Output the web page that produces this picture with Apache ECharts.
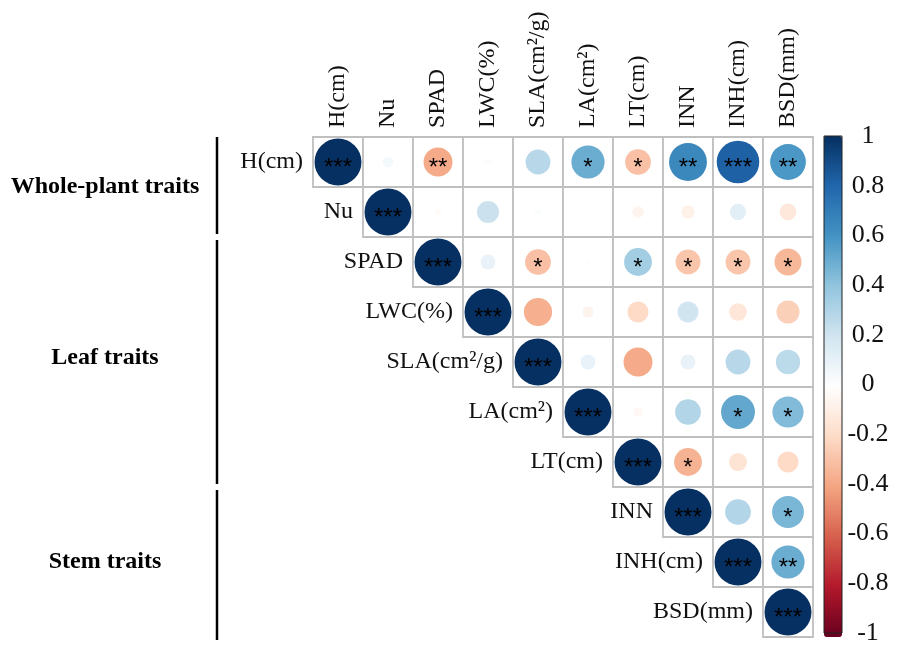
<!DOCTYPE html>
<html>
<head>
<meta charset="utf-8">
<script src="https://cdn.jsdelivr.net/npm/echarts@6/dist/echarts.min.js"></script>
<style>
  html, body { margin: 0; padding: 0; background: #ffffff; }
  #chart { width: 909px; height: 646px; }
</style>
</head>
<body>
<div id="chart"></div>
<script>
// Trait names (rows and columns of the correlation matrix)
const traits = ['H(cm)', 'Nu', 'SPAD', 'LWC(%)', 'SLA(cm²/g)', 'LA(cm²)', 'LT(cm)', 'INN', 'INH(cm)', 'BSD(mm)'];

// Upper-triangle Pearson r, one array per row (row i lists columns i..9)
const corrH    = [1, 0.05, -0.38, 0.02, 0.28, 0.50, -0.30, 0.65, 0.82, 0.58];
const corrNu   = [1, -0.02, 0.22, 0.02, 0.01, -0.06, -0.08, 0.12, -0.13];
const corrSPAD = [1, 0.10, -0.30, -0.01, 0.35, -0.28, -0.28, -0.33];
const corrLWC  = [1, -0.36, -0.06, -0.20, 0.20, -0.14, -0.24];
const corrSLA  = [1, 0.10, -0.38, 0.10, 0.28, 0.27];
const corrLA   = [1, -0.04, 0.30, 0.52, 0.44];
const corrLT   = [1, -0.35, -0.15, -0.20];
const corrINN  = [1, 0.30, 0.46];
const corrINH  = [1, 0.50];
const corrBSD  = [1];

// Significance marks for the same cells
const sigH    = ['***', '', '**', '', '', '*', '*', '**', '***', '**'];
const sigNu   = ['***', '', '', '', '', '', '', '', ''];
const sigSPAD = ['***', '', '*', '', '*', '*', '*', '*'];
const sigLWC  = ['***', '', '', '', '', '', ''];
const sigSLA  = ['***', '', '', '', '', ''];
const sigLA   = ['***', '', '', '*', '*'];
const sigLT   = ['***', '*', '', ''];
const sigINN  = ['***', '', '*'];
const sigINH  = ['***', '**'];
const sigBSD  = ['***'];

// Trait groups: [label, first row, last row]
const groupNames = ['Whole-plant traits', 'Leaf traits', 'Stem traits'];
const groupFirst = [0, 2, 7];
const groupLast  = [1, 6, 9];

// Colour bar tick values and their printed labels
const barTicks      = [1, 0.8, 0.6, 0.4, 0.2, 0, -0.2, -0.4, -0.6, -0.8, -1];
const barTickLabels = ['1', '0.8', '0.6', '0.4', '0.2', '0', '-0.2', '-0.4', '-0.6', '-0.8', '-1'];

const corrRows = [corrH, corrNu, corrSPAD, corrLWC, corrSLA, corrLA, corrLT, corrINN, corrINH, corrBSD];
const sigRows  = [sigH, sigNu, sigSPAD, sigLWC, sigSLA, sigLA, sigLT, sigINN, sigINH, sigBSD];

// RdBu diverging palette, from r = -1 to r = 1
const rdbu = ['#67001F', '#B2182B', '#D6604D', '#F4A582', '#FDDBC7', '#FFFFFF',
              '#D1E5F0', '#92C5DE', '#4393C3', '#2166AC', '#053061'];

const SERIF = '"Liberation Serif", "Times New Roman", serif';

const cellData = [];
const circleData = [];
corrRows.forEach(function (row, i) {
  row.forEach(function (r, k) {
    const j = i + k;
    cellData.push([j, i]);
    circleData.push([j, i, r, sigRows[i][k]]);
  });
});
const diagData = traits.map(function (t, i) { return [i, i, t]; });
const groupData = groupNames.map(function (g, k) { return [0, groupFirst[k], groupLast[k], g]; });

const chart = echarts.init(document.getElementById('chart'), null, { renderer: 'canvas' });

chart.setOption({
  backgroundColor: '#ffffff',
  animation: false,
  grid: [
    { left: 313, top: 137, width: 500, height: 500 },
    { left: 824, top: 136, width: 18, height: 501, show: true,
      borderColor: '#222', borderWidth: 1, backgroundColor: 'transparent', z: 5 }
  ],
  xAxis: [
    {
      type: 'category', data: traits, position: 'top', gridIndex: 0,
      axisLine: { show: false }, axisTick: { show: false }, splitLine: { show: false },
      axisLabel: { rotate: -90, margin: 9, fontFamily: SERIF, fontSize: 24, color: '#111', interval: 0 }
    },
    { type: 'value', gridIndex: 1, show: false, min: 0, max: 1 }
  ],
  yAxis: [
    { type: 'category', data: traits, inverse: true, gridIndex: 0, show: false },
    {
      type: 'value', gridIndex: 1, min: -1, max: 1, interval: 0.2, position: 'right',
      axisLine: { show: false }, splitLine: { show: false },
      axisTick: { show: true, length: 4, lineStyle: { color: '#222', width: 1 } },
      axisLabel: {
        align: 'center', margin: 26, fontFamily: SERIF, fontSize: 26, color: '#111',
        formatter: function (v) {
          const idx = barTicks.findIndex(function (t) { return Math.abs(t - v) < 1e-6; });
          return idx >= 0 ? barTickLabels[idx] : '';
        }
      }
    }
  ],
  visualMap: {
    type: 'continuous', min: -1, max: 1, dimension: 2, seriesIndex: 2,
    inRange: { color: rdbu },
    calculable: false, hoverLink: false,
    orient: 'vertical', left: 824, top: 136, itemWidth: 18, itemHeight: 501,
    padding: 0, text: null, showLabel: false
  },
  series: [
    {
      // grid cells of the upper triangle
      type: 'custom', xAxisIndex: 0, yAxisIndex: 0, data: cellData, silent: true, z: 1,
      renderItem: function (params, api) {
        const p = api.coord([api.value(0), api.value(1)]);
        const s = api.size([1, 1]);
        return {
          type: 'rect',
          shape: { x: p[0] - s[0] / 2, y: p[1] - s[1] / 2, width: s[0], height: s[1] },
          style: { fill: '#ffffff', stroke: '#bfbfbf', lineWidth: 1.8 }
        };
      }
    },
    {
      // trait names beside the diagonal
      type: 'custom', xAxisIndex: 0, yAxisIndex: 0, data: diagData, silent: true, z: 3,
      renderItem: function (params, api) {
        const i = api.value(0);
        const p = api.coord([i, i]);
        const s = api.size([1, 1]);
        return {
          type: 'text',
          x: p[0] - s[0] / 2 - 10, y: p[1],
          style: {
            text: traits[i], align: 'right', verticalAlign: 'middle',
            font: '24px ' + SERIF, fill: '#111'
          }
        };
      }
    },
    {
      // correlation circles
      type: 'scatter', xAxisIndex: 0, yAxisIndex: 0, data: circleData, z: 4,
      symbol: 'circle',
      symbolSize: function (v) { return 47 * Math.sqrt(Math.abs(v[2])); },
      itemStyle: { opacity: 1 },
      label: {
        show: true, position: 'inside', color: '#000',
        fontFamily: '"Liberation Sans", Arial, sans-serif', fontSize: 24, offset: [0, 6],
        formatter: function (p) { return p.value[3]; }
      }
    },
    {
      // trait group labels and brackets
      type: 'custom', xAxisIndex: 0, yAxisIndex: 0, data: groupData, silent: true, z: 3,
      renderItem: function (params, api) {
        const a = api.coord([0, api.value(1)]);
        const b = api.coord([0, api.value(2)]);
        const s = api.size([1, 1]);
        const top = a[1] - s[1] / 2;
        const bottom = b[1] + s[1] / 2;
        const left = a[0] - s[0] / 2;
        const lineX = left - 96;
        const name = groupNames[params.dataIndex];
        return {
          type: 'group',
          children: [
            {
              type: 'line',
              shape: { x1: lineX, y1: top + (params.dataIndex === 0 ? 0 : 3), x2: lineX, y2: bottom - 3 + (params.dataIndex === 2 ? 6 : 0) },
              style: { stroke: '#000', lineWidth: 2.5 }
            },
            {
              type: 'text',
              x: left - 208, y: (top + bottom) / 2 - (params.dataIndex === 1 ? 4 : 0),
              style: {
                text: name, align: 'center', verticalAlign: 'middle',
                font: 'bold 24px ' + SERIF, fill: '#000'
              }
            }
          ]
        };
      }
    }
  ]
});
</script>
</body>
</html>
